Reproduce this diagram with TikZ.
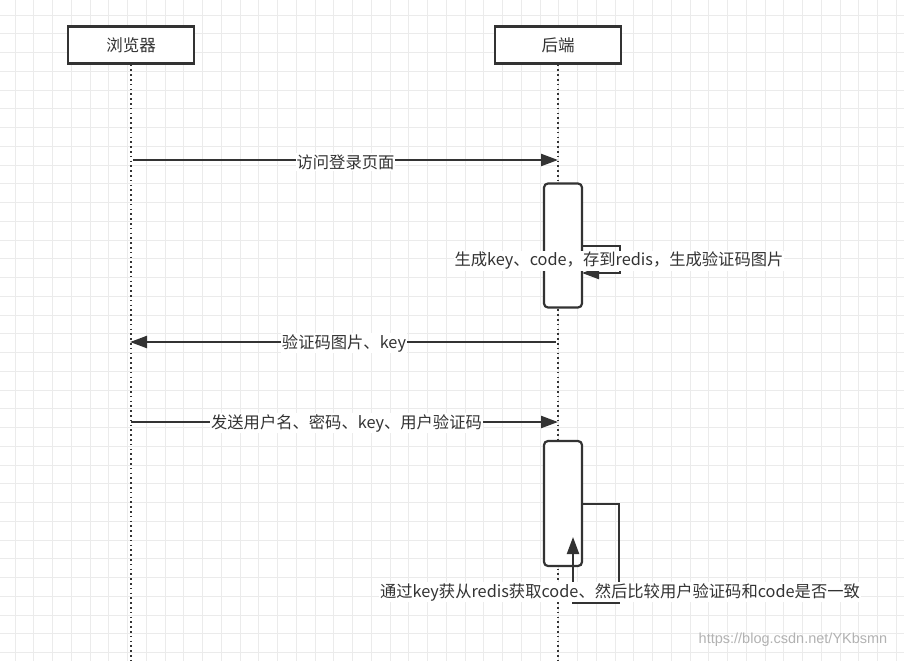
\documentclass[tikz,border=0pt]{standalone}
\usepackage{fontspec}
\setmainfont{Noto Sans CJK SC}
\usetikzlibrary{arrows.meta}
\definecolor{ink}{HTML}{333333}
\definecolor{gridc}{HTML}{EBEBEB}
\tikzset{
  actor/.style={draw=ink, line width=2.2pt, fill=white, minimum width=126pt, minimum height=37pt, inner sep=0pt, text=ink, font=\fontsize{16.5}{19}\selectfont},
  life/.style={ink, line width=1.6pt, dash pattern=on 1.6pt off 3.2pt},
  msg/.style={ink, line width=2.2pt, -{Triangle[length=17pt,width=12pt]}},
  lbl/.style={fill=white, inner sep=1pt, text=ink, font=\fontsize{16.3}{19}\selectfont},
  actbox/.style={draw=ink, line width=2.2pt, fill=white, rounded corners=4pt, minimum width=38pt, inner sep=0pt},
}
\begin{document}
\begin{tikzpicture}[x=1pt,y=-1pt]
\fill[white] (0,0) rectangle (904,661);
\useasboundingbox (0,0) rectangle (904,661);
\foreach \i in {0,...,47} {
  \draw[gridc, line width=0.8pt] ({15+18.75*\i},0) -- ({15+18.75*\i},661);
}
\foreach \i in {0,...,34} {
  \draw[gridc, line width=0.8pt] (0,{15+18.75*\i}) -- (904,{15+18.75*\i});
}
% actors
\node[actor] (br) at (131,45) {浏览器};
\node[actor] (be) at (558,45) {后端};
\coordinate (brend) at (131,661);
\coordinate (beend) at (558,661);
\draw[life] (br.south) -- (brend);
\draw[life] (be.south) -- (beend);
% activation boxes
\node[actbox, minimum height=124pt] (a1) at (563,245.5) {};
\node[actbox, minimum height=125pt] (a2) at (563,503.5) {};
% message 1
\coordinate (m1s) at (133,160);
\coordinate (m1e) at (558,160);
\draw[msg] (m1s) -- node[lbl, pos=0.5, yshift=-2pt] {访问登录页面} (m1e);
% self loop 1
\coordinate (l1a) at (582,246);
\coordinate (l1b) at (620,246);
\coordinate (l1c) at (620,273);
\coordinate (l1d) at (582,273);
\draw[msg] (l1a) -- (l1b) -- (l1c) -- (l1d);
\node[lbl] (t1) at (619,261) {生成key、code，存到redis，生成验证码图片};
% message 2
\coordinate (m2s) at (556,342);
\coordinate (m2e) at (130,342);
\draw[msg] (m2s) -- node[lbl, pos=0.5, xshift=1pt, yshift=-1pt] {验证码图片、key} (m2e);
% message 3
\coordinate (m3s) at (131,422);
\coordinate (m3e) at (558,422);
\draw[msg] (m3s) -- node[lbl, pos=0.5, xshift=2pt, yshift=-1pt] {发送用户名、密码、key、用户验证码} (m3e);
% self loop 2
\coordinate (l2a) at (582,504);
\coordinate (l2b) at (619,504);
\coordinate (l2c) at (619,603);
\coordinate (l2d) at (573,603);
\coordinate (l2e) at (573,537);
\draw[msg] (l2a) -- (l2b) -- (l2c) -- (l2d) -- (l2e);
\node[lbl] (t2) at (620,592) {通过key获从redis获取code、然后比较用户验证码和code是否一致};
% watermark
\node[text=black!30, font=\fontsize{14.5}{16}\selectfont\fontspec{Liberation Sans}, inner sep=0pt] (wm) at (793,640) {https://blog.csdn.net/YKbsmn};
\end{tikzpicture}
\end{document}
